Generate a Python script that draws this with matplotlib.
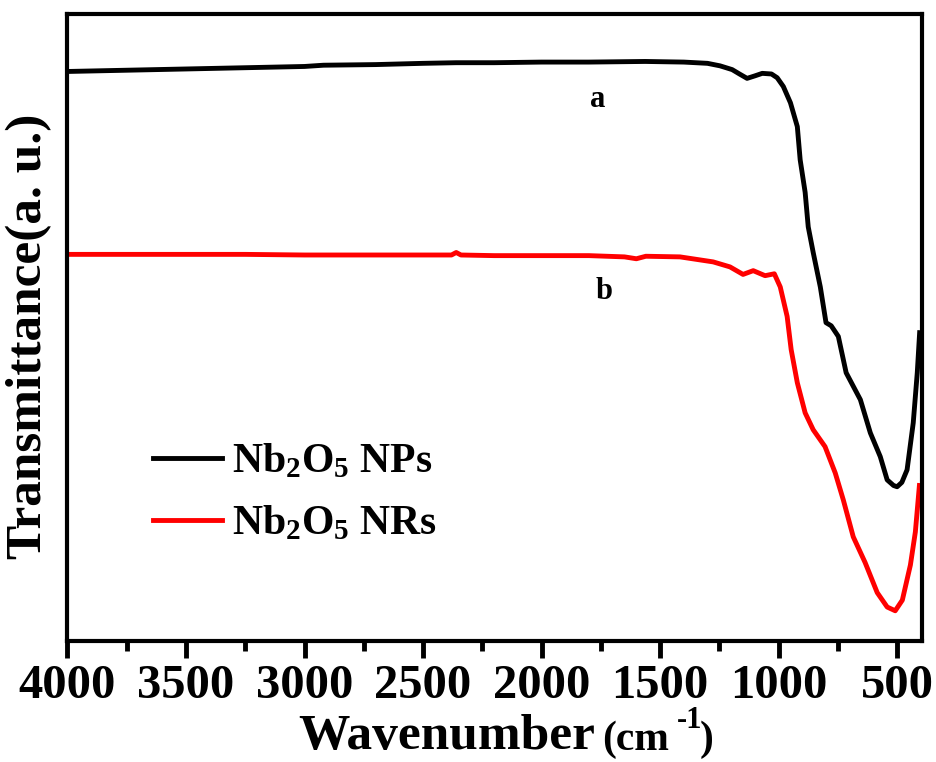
import matplotlib.pyplot as plt
import numpy as np

plt.rcParams['font.family'] = ['Liberation Serif', 'DejaVu Serif']
plt.rcParams['font.weight'] = 'bold'
plt.rcParams['axes.labelweight'] = 'bold'
plt.rcParams['mathtext.fontset'] = 'custom'
plt.rcParams['mathtext.rm'] = 'Liberation Serif:bold'
plt.rcParams['mathtext.it'] = 'Liberation Serif:bold'
plt.rcParams['mathtext.bf'] = 'Liberation Serif:bold'

# curve a: Nb2O5 NPs
wn_a = [4000, 3750, 3500, 3250, 3000, 2920, 2700, 2500, 2360, 2200, 2000, 1800,
        1563, 1400, 1300, 1247, 1196, 1165, 1133, 1100, 1069, 1030, 1006, 980,
        950, 921, 909, 888, 875, 854, 824, 800, 778, 748, 715, 655, 613, 571,
        542, 515, 500, 480, 458, 432, 415, 405]
tr_a = [90.9, 91.1, 91.3, 91.5, 91.7, 91.9, 92.0, 92.2, 92.3, 92.3, 92.4, 92.4,
        92.5, 92.4, 92.2, 91.8, 91.2, 90.5, 89.8, 90.2, 90.6, 90.5, 89.9, 88.5,
        85.9, 82.1, 76.8, 71.6, 66.1, 62.0, 56.5, 50.8, 50.3, 48.6, 42.8, 38.5,
        33.2, 29.4, 25.7, 24.8, 24.6, 25.3, 27.3, 34.8, 42.8, 49.2]

# curve b: Nb2O5 NRs
wn_b = [4000, 3750, 3500, 3250, 3000, 2750, 2500, 2380, 2360, 2340, 2200, 2000,
        1800, 1650, 1600, 1560, 1416, 1276, 1205, 1150, 1107, 1057, 1018, 993,
        964, 947, 921, 888, 854, 804, 761, 727, 685, 635, 584, 542, 508, 478,
        444, 423, 406]
tr_b = [61.7, 61.7, 61.7, 61.7, 61.6, 61.6, 61.6, 61.6, 62.0, 61.6, 61.5, 61.5,
        61.5, 61.3, 61.0, 61.4, 61.3, 60.5, 59.7, 58.5, 59.1, 58.3, 58.6, 56.5,
        51.8, 46.5, 41.2, 36.4, 33.7, 31.0, 26.8, 22.5, 16.6, 12.5, 7.7, 5.4,
        4.8, 6.5, 12.1, 17.4, 24.8]

W, H = 937, 762
fig = plt.figure(figsize=(W / 100, H / 100), dpi=100)
ax = fig.add_axes([0.072, 0.159, 0.912, 0.822])

ax.plot(wn_a, tr_a, color='black', lw=3.5, label='Nb$_2$O$_5$ NPs')
ax.plot(wn_b, tr_b, color='red', lw=3.5, label='Nb$_2$O$_5$ NRs')

ax.set_xlim(4000, 395)
ax.set_ylim(0, 100)
ax.set_xticks(np.arange(4000, 400, -500))
ax.set_xticks(np.arange(3750, 400, -500), minor=True)
ax.set_yticks([])
ax.tick_params(axis='x', which='major', direction='out', length=12, width=3.5, labelsize=35, pad=5)
ax.tick_params(axis='x', which='minor', direction='out', length=7, width=3.5)
for s in ax.spines.values():
    s.set_linewidth(3)

ax.text(1765, 86.4, 'a', fontsize=22, ha='center', va='center')
ax.text(1735, 55.7, 'b', fontsize=22, ha='center', va='center')

ax.set_ylabel('Transmittance(a. u.)', fontsize=37)
ax.yaxis.set_label_coords(52 / W, 1 - 336 / H, transform=fig.transFigure)

fig.text(298 / W, 1 - 749 / H, 'Wavenumber', fontsize=37, ha='left', va='baseline')
fig.text(602 / W, 1 - 750 / H, '(cm', fontsize=30, ha='left', va='baseline')
fig.text(677 / W, 1 - 728 / H, '-1', fontsize=22, ha='left', va='baseline')
fig.text(700 / W, 1 - 750 / H, ')', fontsize=30, ha='left', va='baseline')

ax.legend(loc='upper left', bbox_to_anchor=(153 / W, 1 - 443 / H),
          bbox_transform=fig.transFigure, frameon=False, borderpad=0,
          borderaxespad=0, fontsize=30, handlelength=1.65, handletextpad=0.25,
          labelspacing=0.55)

fig.savefig('out.png', dpi=100)
